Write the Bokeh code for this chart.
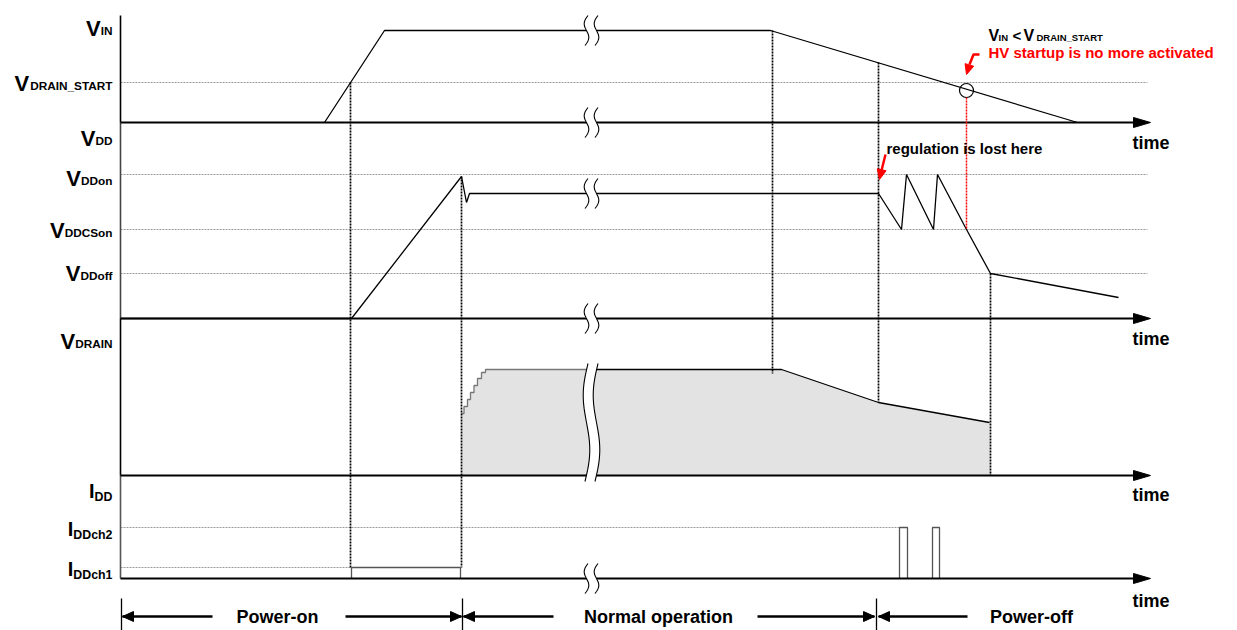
import numpy as np
from bokeh.plotting import figure
from bokeh.models import Range1d
from bokeh.core.properties import value
from bokeh.embed import file_html
from bokeh.resources import INLINE

FONT = value("Liberation Sans")

# ---------------- data (diagram units: time along x, level above each panel's time axis) ----
t_axis_start, t_axis_tip = 120, 1150
panel_base = {"vin": 122, "vdd": 318, "vdrain": 475, "idd": 578}
panel_top = {"vin": 15, "vdd": 122, "vdrain": 318, "idd": 475}

vin_time = [324, 384, 770, 1077]
vin_level = [0, 92, 92, 0]
vin_drain_start = 40
hv_off_time, hv_off_level = 966, 32

vdd_time = [120, 351, 461, 466, 469, 878, 901, 906, 933, 937, 966, 990, 1118]
vdd_level = [0, 0, 142, 116, 125, 125, 89, 144, 89, 144, 89, 45, 21]
vdd_on, vdd_cson, vdd_off = 144, 89, 45

vdrain_step_time = [461, 463.5, 467, 470, 473.5, 477, 481, 485]
vdrain_step_level = [62, 69, 76, 83, 90, 97, 103, 106]
vdrain_time = [781, 878, 989]
vdrain_level = [106, 73, 53]
vdrain_end = 990

idd_ch1, idd_ch2 = 11, 51
idd_pulse_start = [351, 899, 932]
idd_pulse_end = [460, 907, 939]
idd_pulse_level = [idd_ch1, idd_ch2, idd_ch2]

event_time = [350, 461, 772, 878, 990]
event_from = [("vin", 40), ("vdd", 142), ("vin", 92), ("vin", 60), ("vdd", 45)]
event_to = [("idd", 11), ("idd", 11), ("vdrain", 102), ("vdrain", 73), ("vdrain", 0)]

break_time = 591

axis_labels = [  # main letter, subscript, baseline
    ("V", "IN", 28), ("V", "DRAIN_START", 83), ("V", "DD", 138),
    ("V", "DDon", 178), ("V", "DDCSon", 230), ("V", "DDoff", 273),
    ("V", "DRAIN", 341), ("I", "DD", 490), ("I", "DDch2", 528),
    ("I", "DDch1", 568),
]
label_right = 112
time_label = "time"
time_label_y = [142, 338, 494, 600]

phase_names = ["Power-on", "Normal operation", "Power-off"]
phase_center = [277, 658, 1031]
phase_ticks = [121, 462, 876]
phase_arrows = [(212, 122), (345, 461), (553, 463), (757, 874), (967, 878)]

note_reg = "regulation is lost here"
note_hv = "HV startup is no more activated"

# Arial/Liberation Sans Bold advance widths (1/1000 em) for subscript layout
ADV = {"D": 722, "R": 722, "A": 722, "I": 278, "N": 722, "_": 556, "S": 667, "T": 611,
       "C": 722, "o": 611, "n": 611, "f": 333, "c": 556, "h": 611, "1": 556, "2": 556}


def text_width(s, size):
    return sum(ADV.get(ch, 600) for ch in s) * size / 1000.0


# ---------------- figure ----------------
W, H = 1237, 630
p = figure(width=W, height=H, x_range=Range1d(0, W), y_range=Range1d(H, 0),
           output_backend="svg", toolbar_location=None, min_border=0,
           x_axis_location=None, y_axis_location=None)
p.grid.visible = False
p.outline_line_color = None
p.background_fill_color = "white"
p.border_fill_color = "white"


def Y(panel, level):
    return panel_base[panel] - level


def head(tip, tail, length, half_w):
    dx, dy = tip[0] - tail[0], tip[1] - tail[1]
    n = (dx * dx + dy * dy) ** 0.5
    ux, uy = dx / n, dy / n
    bx, by = tip[0] - ux * length, tip[1] - uy * length
    px, py = -uy, ux
    return ([tip[0], bx + px * half_w, bx - px * half_w],
            [tip[1], by + py * half_w, by - py * half_w])


def wave(cx, cy, hh, amp, tilt):
    t = np.linspace(0, 1, 40)
    y = cy - hh + 2 * hh * t
    x = cx - amp * np.sin(2 * np.pi * t) + tilt * (0.5 - t)
    return list(x), list(y)


# reference (threshold) dashed lines
ref_y = [Y("vin", vin_drain_start), Y("vdd", vdd_on), Y("vdd", vdd_cson), Y("vdd", vdd_off),
         Y("idd", idd_ch2), Y("idd", idd_ch1)]
ref_end = [1147, 1147, 1147, 1147, idd_pulse_start[1], idd_pulse_start[0]]
p.multi_line(xs=[[t_axis_start, e] for e in ref_end], ys=[[y, y] for y in ref_y],
             line_color="#9a9a9a", line_width=1, line_dash="2 1")

# V_DRAIN shaded area
st_x, st_y = [], []
for i, (t, l) in enumerate(zip(vdrain_step_time, vdrain_step_level)):
    if i > 0:
        st_x.append(t)
        st_y.append(Y("vdrain", vdrain_step_level[i - 1]))
    st_x.append(t)
    st_y.append(Y("vdrain", l))
top_x = st_x + vdrain_time
top_y = st_y + [Y("vdrain", l) for l in vdrain_level]
fill_x = [vdrain_step_time[0]] + top_x + [vdrain_end]
fill_y = [panel_base["vdrain"]] + top_y + [panel_base["vdrain"]]
p.patch(fill_x, fill_y, fill_color="#e3e3e3", line_color=None)
plateau_y = Y("vdrain", vdrain_step_level[-1])
p.line(st_x + [break_time], st_y + [plateau_y], line_color="#777777", line_width=1.3)
p.line([break_time] + vdrain_time, [plateau_y] + [Y("vdrain", l) for l in vdrain_level],
       line_color="black", line_width=1.3)

# event dotted lines
p.multi_line(xs=[[t, t] for t in event_time],
             ys=[[Y(*a), Y(*b)] for a, b in zip(event_from, event_to)],
             line_color="black", line_width=1.7, line_dash="2 1")

# signals
p.line(vin_time, [Y("vin", l) for l in vin_level], line_color="black", line_width=1.3)
p.line(vdd_time, [Y("vdd", l) for l in vdd_level], line_color="black", line_width=1.3)
p.multi_line(xs=[[s, s, e, e] for s, e in zip(idd_pulse_start, idd_pulse_end)],
             ys=[[Y("idd", 0), Y("idd", l), Y("idd", l), Y("idd", 0)] for l in idd_pulse_level],
             line_color="#555555", line_width=1.3)

# panel vertical axes
panels = ["vin", "vdd", "vdrain", "idd"]
p.multi_line(xs=[[t_axis_start, t_axis_start] for _ in panels],
             ys=[[panel_top[k], panel_base[k]] for k in panels],
             line_color=["black", "#444444", "black", "#555555"], line_width=1.6)
# time axes with arrowheads
p.multi_line(xs=[[t_axis_start, t_axis_tip - 15] for _ in panels],
             ys=[[panel_base[k], panel_base[k]] for k in panels],
             line_color="black", line_width=2)
hx, hy = [], []
for k in panels:
    a, b = head((t_axis_tip, panel_base[k]), (t_axis_start, panel_base[k]), 17, 5)
    hx.append(a)
    hy.append(b)
p.patches(hx, hy, fill_color="black", line_color="black", line_width=1)

# break symbols
small_breaks = [Y("vin", 92), Y("vin", 0), Y("vdd", 125), Y("vdd", 0), Y("idd", 0)]
bands_x, bands_y, strokes_x, strokes_y = [], [], [], []
for cy in small_breaks:
    lx, ly = wave(break_time - 5, cy, 15, 3, 3)
    rx, ry = wave(break_time + 5, cy, 15, 3, 3)
    bands_x.append(lx + rx[::-1])
    bands_y.append(ly + ry[::-1])
    strokes_x += [lx, rx]
    strokes_y += [ly, ry]
big_top, big_bot = Y("vdrain", 112), panel_base["vdrain"] + 6
cy, hh = (big_top + big_bot) / 2, (big_bot - big_top) / 2
lx, ly = wave(break_time - 5, cy, hh, 4, 3)
rx, ry = wave(break_time + 5, cy, hh, 4, 3)
bands_x.append(lx + rx[::-1])
bands_y.append(ly + ry[::-1])
strokes_x += [lx, rx]
strokes_y += [ly, ry]
p.patches(bands_x, bands_y, fill_color="white", line_color=None)
p.multi_line(strokes_x, strokes_y, line_color="black", line_width=1.1)

# HV startup marker
p.scatter([hv_off_time], [Y("vin", hv_off_level)], marker="circle", size=14,
          fill_color=None, line_color="black", line_width=1.2)
p.line([hv_off_time, hv_off_time], [Y("vin", hv_off_level) + 7, Y("vdd", vdd_cson)],
       line_color="#ff0000", line_width=1.5, line_dash="2 1")

# red arrows
red_paths = [([979, 973, 969], [54, 54, 64]), ([885, 881], [154, 170])]
red_tips = [((966, 74), (969, 64)), ((879, 179), (881, 170))]
p.multi_line([a for a, _ in red_paths], [b for _, b in red_paths], line_color="#ff0000", line_width=2.5)
rhx, rhy = [], []
for tip, tail in red_tips:
    a, b = head(tip, tail, 10, 4.5)
    rhx.append(a)
    rhy.append(b)
p.patches(rhx, rhy, fill_color="#ff0000", line_color="#ff0000")

# phase arrows
p.multi_line([[x, x] for x in phase_ticks], [[598, 640] for _ in phase_ticks],
             line_color="black", line_width=1.3)
p.multi_line([[a, b] for a, b in phase_arrows], [[616, 616] for _ in phase_arrows],
             line_color="black", line_width=2.5)
phx, phy = [], []
for tail, tip in phase_arrows:
    a, b = head((tip, 616), (tail, 616), 11, 5)
    phx.append(a)
    phy.append(b)
p.patches(phx, phy, fill_color="black", line_color="black")

# ---------------- texts ----------------
bold = dict(text_font=FONT, text_font_style="bold", text_color="black")
sub_size = [11.8 if m == "V" else 12.4 for m, _, _ in axis_labels]
sub_left = [label_right - text_width(s, fs) for (m, s, _), fs in zip(axis_labels, sub_size)]
p.text(x=sub_left, y=[b for _, _, b in axis_labels],
       text=[m for m, _, _ in axis_labels], text_align="right", text_baseline="alphabetic",
       text_font_size=["22px" if m == "V" else "20px" for m, _, _ in axis_labels], **bold)
p.text(x=[label_right] * len(axis_labels),
       y=[b + (2 if m == "V" else 6) for m, _, b in axis_labels],
       text=[s for _, s, _ in axis_labels], text_align="right", text_baseline="alphabetic",
       text_font_size=[f"{fs}px" for fs in sub_size], **bold)
p.text(x=[1132] * len(time_label_y), y=time_label_y, text=[time_label] * len(time_label_y),
       text_align="left", text_baseline="middle", text_font_size="18px", **bold)
p.text(x=phase_center, y=[616] * 3, text=phase_names, text_align="center",
       text_baseline="middle", text_font_size="18px", **bold)
p.text(x=[886], y=[148], text=[note_reg], text_align="left", text_baseline="middle",
       text_font_size="15px", **bold)
p.text(x=[988], y=[52], text=[note_hv], text_align="left", text_baseline="middle",
       text_font_size="15px", text_font=FONT, text_font_style="bold", text_color="#ff0000")
cond_text = ["V", "IN", "<", "V", "DRAIN_START"]
cond_x = [988, 998, 1012, 1023, 1036]
cond_y = [35, 37, 35, 35, 37]
cond_size = ["16px", "9.5px", "15px", "16px", "9.5px"]
p.text(x=cond_x, y=cond_y, text=cond_text, text_align="left", text_baseline="alphabetic",
       text_font_size=cond_size, **bold)

open("out.html", "w").write(file_html(p, INLINE))
